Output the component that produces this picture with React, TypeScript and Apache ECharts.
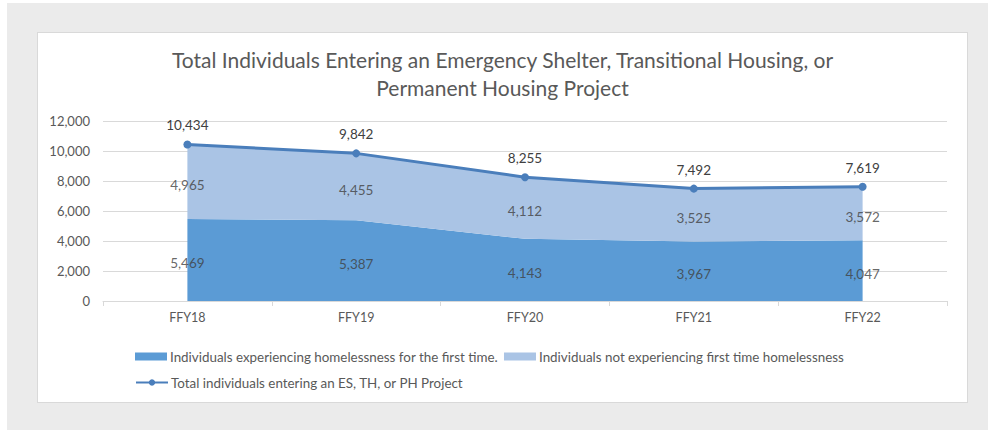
import React, { useEffect, useRef } from "react";
import * as echarts from "echarts";

const categories = ["FFY18", "FFY19", "FFY20", "FFY21", "FFY22"];
const firstTime = [5469, 5387, 4143, 3967, 4047];
const notFirstTime = [4965, 4455, 4112, 3525, 3572];
const totals = [10434, 9842, 8255, 7492, 7619];
const yTicks = { min: 0, max: 12000, interval: 2000 };

const seriesNames = {
  first: "Individuals experiencing homelessness for the first time.",
  notFirst: "Individuals not experiencing first time homelessness",
  total: "Total individuals entering an ES, TH, or PH Project",
};

const FONT = "Lato, 'Open Sans', sans-serif";
const TXT = "#595959";
const fmt = (v: number) => v.toLocaleString("en-US");

export default function App() {
  const ref = useRef<HTMLDivElement>(null);
  useEffect(() => {
    if (!ref.current) return;
    const chart = echarts.init(ref.current, null, { renderer: "svg" });
    const midFirst = firstTime.map((v) => ({ value: v / 2, label: fmt(v) }));
    const midNot = notFirstTime.map((v, i) => ({
      value: firstTime[i] + v / 2,
      label: fmt(v),
    }));
    const labelStyle = {
      show: true,
      position: "inside" as const,
      offset: [0, 3],
      color: "#404040",
      fontSize: 13.5,
      fontFamily: FONT,
    };
    chart.setOption({
      animation: false,
      textStyle: { fontFamily: FONT },
      title: {
        text:
          "Total Individuals Entering an Emergency Shelter, Transitional Housing, or\nPermanent Housing Project",
        left: "center",
        top: 7,
        textStyle: {
          fontFamily: FONT,
          fontSize: 21,
          fontWeight: "normal",
          color: TXT,
          lineHeight: 28,
        },
      },
      legend: [
        {
          data: [
            { name: seriesNames.first, icon: "rect" },
            { name: seriesNames.notFirst, icon: "rect" },
          ],
          left: 92,
          top: 312,
          itemWidth: 32,
          itemHeight: 8,
          itemGap: 6,
          textStyle: { color: TXT, fontSize: 13.4, fontFamily: FONT, padding: [0, 0, 0, -2] },
        },
        {
          data: [seriesNames.total],
          left: 92,
          top: 338,
          itemWidth: 32,
          itemHeight: 8,
          textStyle: { color: TXT, fontSize: 13.4, fontFamily: FONT, padding: [0, 0, 0, -2] },
        },
      ],
      grid: { left: 65, right: 20, top: 88, bottom: 101 },
      xAxis: {
        type: "category",
        data: categories,
        boundaryGap: true,
        axisLine: { lineStyle: { color: "#d9d9d9" } },
        axisTick: { show: true, length: 5, lineStyle: { color: "#d9d9d9" } },
        axisLabel: { color: TXT, fontSize: 12.5, fontFamily: FONT, margin: 10 },
      },
      yAxis: {
        type: "value",
        min: yTicks.min,
        max: yTicks.max,
        interval: yTicks.interval,
        axisLine: { show: false },
        axisTick: { show: false },
        splitLine: { lineStyle: { color: "#d9d9d9" } },
        axisLabel: {
          color: TXT,
          fontSize: 13,
          fontFamily: FONT,
          margin: 13,
          formatter: (v: number) => fmt(v),
        },
      },
      series: [
        {
          name: seriesNames.first,
          type: "line",
          stack: "a",
          data: firstTime,
          symbol: "none",
          lineStyle: { width: 0 },
          itemStyle: { color: "#5b9bd5" },
          areaStyle: { color: "#5b9bd5", opacity: 1 },
          z: 1,
        },
        {
          name: seriesNames.notFirst,
          type: "line",
          stack: "a",
          data: notFirstTime,
          symbol: "none",
          lineStyle: { width: 0 },
          itemStyle: { color: "#aac4e5" },
          areaStyle: { color: "#aac4e5", opacity: 1 },
          z: 1,
        },
        {
          name: seriesNames.total,
          type: "line",
          data: totals,
          symbol: "circle",
          symbolSize: 8,
          lineStyle: { width: 3, color: "#4a7ebb" },
          itemStyle: { color: "#4a7ebb" },
          label: {
            show: true,
            position: "top",
            distance: 8,
            color: "#404040",
            fontSize: 13.5,
            fontFamily: FONT,
            formatter: (p: any) => fmt(p.value),
          },
          z: 5,
        },
        {
          name: "midFirst",
          type: "scatter",
          data: midFirst.map((d) => d.value),
          symbolSize: 1,
          itemStyle: { color: "rgba(0,0,0,0)" },
          label: { ...labelStyle, formatter: (p: any) => midFirst[p.dataIndex].label },
          z: 6,
        },
        {
          name: "midNot",
          type: "scatter",
          data: midNot.map((d) => d.value),
          symbolSize: 1,
          itemStyle: { color: "rgba(0,0,0,0)" },
          label: { ...labelStyle, formatter: (p: any) => midNot[p.dataIndex].label },
          z: 6,
        },
      ],
    });
    return () => chart.dispose();
  }, []);

  return (
    <div style={{ position: "fixed", left: 0, top: 0, width: 988, height: 430, background: "#fff" }}>
      <div
        style={{
          position: "absolute",
          left: 7,
          top: 3,
          width: 981,
          height: 427,
          background: "#ebebeb",
        }}
      />
      <div
        style={{
          position: "absolute",
          left: 37,
          top: 32,
          width: 929,
          height: 369,
          background: "#fff",
          border: "1px solid #d9d9d9",
        }}
      >
        <div ref={ref} style={{ width: 929, height: 369 }} />
      </div>
    </div>
  );
}
